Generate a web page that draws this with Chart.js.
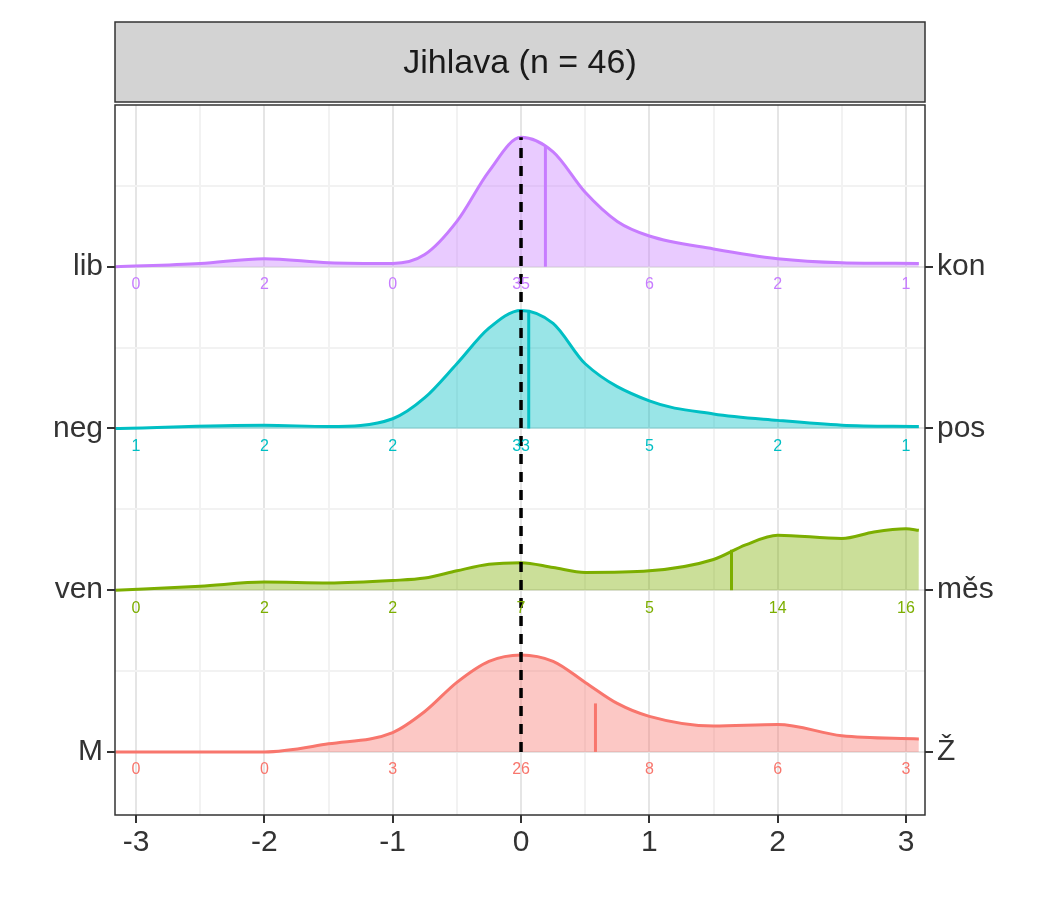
<!DOCTYPE html>
<html><head><meta charset="utf-8">
<script src="https://cdn.jsdelivr.net/npm/chart.js@4/dist/chart.umd.min.js"></script>
<style>body{margin:0;background:#fff}canvas{display:block}</style>
</head><body>
<canvas id="c" width="1050" height="900"></canvas>
<script>
'use strict';
// rows, bottom to top
var leftLabels = ['M', 'ven', 'neg', 'lib'];
var rightLabels = ['Ž', 'měs', 'pos', 'kon'];
var rowColors = ['#F8766D', '#7CAE00', '#00BFC4', '#C77CFF'];
var xTicks = [-3, -2, -1, 0, 1, 2, 3];
// density curves (x, height in row units)
var densX = [
  [-3.16, -2, -1.5, -1, -0.75, -0.5, -0.25, 0, 0.25, 0.5, 0.75, 1, 1.5, 2, 2.5, 3.1],
  [-3.16, -2.5, -2, -1.5, -1, -0.75, -0.5, -0.25, 0, 0.25, 0.5, 1, 1.5, 1.75, 2, 2.5, 2.75, 3, 3.1],
  [-3.16, -2, -1.5, -1, -0.75, -0.5, -0.25, 0, 0.25, 0.5, 1, 1.5, 2, 2.5, 3.1],
  [-3.16, -2.5, -2, -1.5, -1, -0.75, -0.5, -0.25, 0, 0.25, 0.5, 0.75, 1, 1.5, 2, 2.5, 3.1]
];
var densY = [
  [0, 0, 0.05, 0.12, 0.25, 0.43, 0.56, 0.6, 0.56, 0.43, 0.3, 0.22, 0.16, 0.17, 0.1, 0.08],
  [0, 0.025, 0.05, 0.045, 0.06, 0.075, 0.12, 0.16, 0.17, 0.14, 0.11, 0.12, 0.19, 0.28, 0.34, 0.32, 0.36, 0.38, 0.37],
  [0, 0.02, 0.012, 0.06, 0.19, 0.4, 0.62, 0.73, 0.65, 0.4, 0.17, 0.09, 0.05, 0.02, 0.012],
  [0, 0.02, 0.05, 0.025, 0.02, 0.075, 0.28, 0.59, 0.8, 0.71, 0.46, 0.28, 0.19, 0.11, 0.05, 0.025, 0.02]
];
var means = [0.58, 1.64, 0.06, 0.19];
var meanHeights = [0.3, 0.25, 0.72, 0.75];
var counts = [
  [0, 0, 3, 26, 8, 6, 3],
  [0, 2, 2, 7, 5, 14, 16],
  [1, 2, 2, 33, 5, 2, 1],
  [0, 2, 0, 35, 6, 2, 1]
];

var datasets = [];
rowColors.forEach(function (col, i) {
  var base = i + 1;
  datasets.push({
    data: densX[i].map(function (x, k) { return {x: x, y: base + densY[i][k]}; }),
    borderColor: col, backgroundColor: col + '66', borderWidth: 3,
    fill: {value: base}, pointRadius: 0, cubicInterpolationMode: 'monotone', order: 3
  });
  datasets.push({
    data: [{x: means[i], y: base}, {x: means[i], y: base + meanHeights[i]}],
    borderColor: col, borderWidth: 3, pointRadius: 0, fill: false, order: 2
  });
});
datasets.push({
  data: [{x: 0, y: 1}, {x: 0, y: 4.8}],
  borderColor: '#000', borderWidth: 3.5, borderDash: [10, 8], pointRadius: 0, fill: false, order: 1
});

var halfTicks = function (lo, hi) {
  var t = [];
  for (var v = lo; v <= hi + 1e-9; v += 0.5) t.push({value: v});
  return t;
};
var gridCol = function (ctx) {
  return Number.isInteger(ctx.tick.value) ? '#E5E5E5' : '#F2F2F2';
};
var tickCol = function (ctx) {
  return Number.isInteger(ctx.tick.value) ? '#333' : 'rgba(0,0,0,0)';
};

var stripPlugin = {
  id: 'strip',
  afterDraw: function (chart) {
    var c = chart.ctx, a = chart.chartArea;
    c.save();
    c.fillStyle = '#D3D3D3'; c.strokeStyle = '#333'; c.lineWidth = 1.5;
    c.fillRect(a.left, 22, a.right - a.left, 80);
    c.strokeRect(a.left, 22, a.right - a.left, 80);
    c.strokeRect(a.left, a.top, a.right - a.left, a.bottom - a.top);
    c.fillStyle = '#1A1A1A'; c.font = '34px "Liberation Sans", Arial';
    c.textAlign = 'center'; c.textBaseline = 'middle';
    c.fillText('Jihlava (n = 46)', (a.left + a.right) / 2, 64);
    // counts
    c.font = '16px "Liberation Sans", Arial';
    c.textBaseline = 'top';
    var xs = chart.scales.x, ys = chart.scales.y;
    counts.forEach(function (row, i) {
      c.fillStyle = rowColors[i];
      row.forEach(function (n, k) {
        c.fillText(String(n), xs.getPixelForValue(xTicks[k]), ys.getPixelForValue(i + 1) + 10);
      });
    });
    c.restore();
  }
};

var tickFont = {size: 30, family: '"Liberation Sans", Arial'};

new Chart(document.getElementById('c'), {
  type: 'line',
  data: {datasets: datasets},
  options: {
    responsive: false, animation: false, devicePixelRatio: 1,
    layout: {padding: {top: 105, left: 0, right: 0, bottom: 0}},
    plugins: {legend: {display: false}, tooltip: {enabled: false}},
    scales: {
      x: {
        type: 'linear', min: -3.164, max: 3.148,
        afterBuildTicks: function (s) { s.ticks = halfTicks(-3, 3); },
        afterFit: function (s) { s.height = 85; },
        grid: {color: gridCol, lineWidth: 2, tickLength: 8, tickColor: tickCol},
        border: {display: false},
        ticks: {
          color: '#333', font: tickFont, maxRotation: 0, padding: 2,
          callback: function (v) { return Number.isInteger(v) ? String(v) : ''; }
        }
      },
      y: {
        type: 'linear', min: 0.61, max: 5.0, position: 'left',
        afterBuildTicks: function (s) { s.ticks = halfTicks(1, 4.5); },
        afterFit: function (s) { s.width = 115; },
        grid: {color: gridCol, lineWidth: 2, tickLength: 8, tickColor: tickCol},
        border: {display: false},
        ticks: {
          color: '#333', font: tickFont, padding: 4,
          callback: function (v) { return (Number.isInteger(v) && v <= 4) ? leftLabels[v - 1] : ''; }
        }
      },
      y2: {
        type: 'linear', min: 0.61, max: 5.0, position: 'right',
        afterBuildTicks: function (s) { s.ticks = halfTicks(1, 4); },
        afterFit: function (s) { s.width = 125; },
        grid: {drawOnChartArea: false, lineWidth: 2, tickLength: 8, tickColor: tickCol},
        border: {display: false},
        ticks: {
          color: '#333', font: tickFont, padding: 4,
          callback: function (v) { return Number.isInteger(v) ? rightLabels[v - 1] : ''; }
        }
      }
    }
  },
  plugins: [stripPlugin]
});
</script>
</body></html>
